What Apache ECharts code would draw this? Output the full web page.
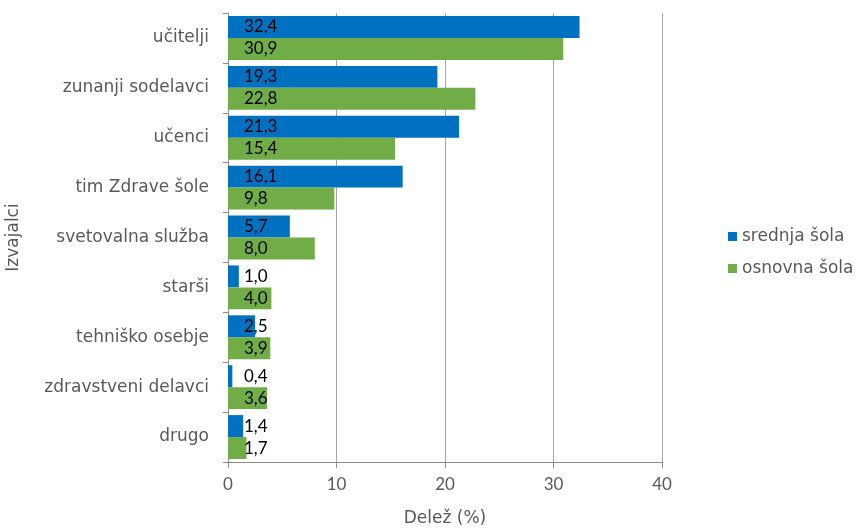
<!DOCTYPE html>
<html>
<head>
<meta charset="utf-8">
<script src="https://cdn.jsdelivr.net/npm/echarts@6/dist/echarts.min.js"></script>
<style>
  html, body { margin: 0; padding: 0; background: #fff; }
  #chart { width: 860px; height: 528px; }
</style>
</head>
<body>
<div id="chart"></div>
<script>
// Izvajalci dejavnosti – delež po vrsti šole
const categories = ['učitelji', 'zunanji sodelavci', 'učenci', 'tim Zdrave šole',
  'svetovalna služba', 'starši', 'tehniško osebje', 'zdravstveni delavci', 'drugo'];
const srednjaSola = [32.4, 19.3, 21.3, 16.1, 5.7, 1.0, 2.5, 0.4, 1.4];
const osnovnaSola = [30.9, 22.8, 15.4, 9.8, 8.0, 4.0, 3.9, 3.6, 1.7];
const xTicks = [0, 10, 20, 30, 40];

const TEXT_FONT = '"DejaVu Sans", sans-serif';
const NUM_FONT = 'Lato, "DejaVu Sans", sans-serif';
const GREY_TEXT = '#595959';
const AXIS_GREY = '#8c8c8c';

const fmt = v => v.toFixed(1).replace('.', ',');

const valueLabel = {
  show: true,
  position: [16, '50%'],
  verticalAlign: 'middle',
  color: '#000',
  fontFamily: NUM_FONT,
  fontSize: 17,
  formatter: p => fmt(p.value)
};

const chart = echarts.init(document.getElementById('chart'));
chart.setOption({
  animation: false,
  textStyle: { fontFamily: TEXT_FONT },
  grid: {
    left: 228, right: 198, top: 13, bottom: 66,
    containLabel: false,
    outerBoundsMode: 'none'
  },
  legend: {
    orient: 'vertical',
    left: 723,
    top: 223,
    itemWidth: 9,
    itemHeight: 9,
    itemGap: 15,
    icon: 'rect',
    textStyle: { color: GREY_TEXT, fontSize: 17, fontFamily: TEXT_FONT },
    data: ['srednja šola', 'osnovna šola']
  },
  xAxis: {
    type: 'value',
    min: 0,
    max: 40,
    interval: 10,
    name: 'Delež (%)',
    nameLocation: 'middle',
    nameGap: 48,
    nameTextStyle: { color: GREY_TEXT, fontSize: 17, fontFamily: TEXT_FONT },
    axisLine: { show: true, lineStyle: { color: AXIS_GREY } },
    axisTick: { show: true, length: 6, lineStyle: { color: AXIS_GREY } },
    axisLabel: {
      color: GREY_TEXT, fontSize: 17, margin: 14, fontFamily: NUM_FONT,
      formatter: v => xTicks.includes(v) ? String(v) : ''
    },
    splitLine: { show: true, lineStyle: { color: '#a6a6a6' } }
  },
  yAxis: {
    type: 'category',
    data: categories,
    inverse: true,
    name: 'Izvajalci',
    nameLocation: 'middle',
    nameGap: 206,
    nameRotate: 90,
    nameTextStyle: { color: GREY_TEXT, fontSize: 17, fontFamily: TEXT_FONT },
    axisLine: { show: true, lineStyle: { color: AXIS_GREY } },
    axisTick: { show: true, length: 5, lineStyle: { color: AXIS_GREY } },
    axisLabel: { color: GREY_TEXT, fontSize: 17, margin: 19, fontFamily: TEXT_FONT }
  },
  series: [
    {
      name: 'srednja šola',
      type: 'bar',
      data: srednjaSola,
      barGap: '0%',
      barCategoryGap: '12%',
      itemStyle: { color: '#0070C0' },
      label: valueLabel
    },
    {
      name: 'osnovna šola',
      type: 'bar',
      data: osnovnaSola,
      barGap: '0%',
      barCategoryGap: '12%',
      itemStyle: { color: '#70AD47' },
      label: valueLabel
    }
  ]
});
</script>
</body>
</html>
